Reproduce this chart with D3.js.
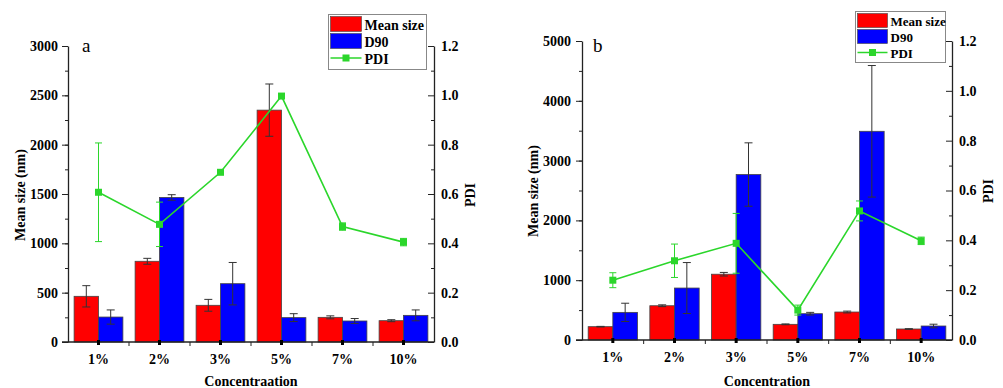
<!DOCTYPE html>
<html>
<head>
<meta charset="utf-8">
<script src="https://cdn.jsdelivr.net/npm/d3@7"></script>
<style>
  body { margin: 0; background: #fff; }
  svg text { font-family: "Liberation Serif", "Times New Roman", serif; }
</style>
</head>
<body>
<svg id="chart" width="1003" height="388"></svg>
<script>
// data
var categories = ['1%', '2%', '3%', '5%', '7%', '10%'];

var meanSizeA    = [463, 818, 372, 2350, 250, 216];
var meanSizeErrA = [108, 30, 60, 265, 15, 10];
var d90A         = [253, 1465, 591, 247, 213, 270];
var d90ErrA      = [72, 28, 215, 40, 25, 55];
var pdiA         = [0.607, 0.477, 0.688, 0.997, 0.468, 0.405];
var pdiErrA      = [0.2, 0.09, 0.004, 0.004, 0.015, 0.015];

var meanSizeB    = [223, 573, 1100, 262, 468, 184];
var meanSizeErrB = [5, 15, 30, 7, 15, 5];
var d90B         = [462, 869, 2767, 440, 3490, 234];
var d90ErrB      = [153, 426, 530, 22, 1100, 30];
var pdiB         = [0.24, 0.318, 0.388, 0.12, 0.518, 0.398];
var pdiErrB      = [0.03, 0.067, 0.12, 0.02, 0.04, 0.015];

var leftTicksA = [0, 500, 1000, 1500, 2000, 2500, 3000];
var leftTicksB = [0, 1000, 2000, 3000, 4000, 5000];
var pdiTicks   = [0, 0.2, 0.4, 0.6, 0.8, 1.0, 1.2];
var seriesNames = ['Mean size', 'D90', 'PDI'];

var RED = '#ff0000', BLUE = '#0000ff', GREEN = '#2bd62b', AXIS = '#222';
var SERIF = '"Liberation Serif", "Times New Roman", serif';

var svg = d3.select('#chart');

function styleLabels(a) {
  a.attr('font-family', SERIF);
  a.selectAll('text')
    .style('font-family', SERIF)
    .attr('font-size', 14).attr('font-weight', 'bold').attr('fill', '#000');
}

function drawPanel(p) {
  var g = svg.append('g');

  var x = d3.scaleBand().domain(categories).range([p.x0, p.x1]).padding(0);
  var sub = d3.scaleBand().domain([0, 1])
      .range([x.bandwidth() * 0.1, x.bandwidth() * 0.9]).padding(0);
  var y = d3.scaleLinear().domain([0, p.yMax]).range([p.yBottom, p.yTop]);
  var y2 = d3.scaleLinear().domain([0, 1.2]).range([p.yBottom, p.yTop]);

  var rows = categories.map(function(c, i) {
    return { c: c, mean: p.mean[i], meanErr: p.meanErr[i], d90: p.d90[i],
             d90Err: p.d90Err[i], pdi: p.pdi[i], pdiErr: p.pdiErr[i] };
  });

  // bars
  [['mean', 'meanErr', RED, 0], ['d90', 'd90Err', BLUE, 1]].forEach(function(s) {
    g.selectAll('rect.b' + s[3]).data(rows).enter().append('rect')
      .attr('x', function(d) { return x(d.c) + sub(s[3]); })
      .attr('y', function(d) { return y(d[s[0]]); })
      .attr('width', sub.bandwidth())
      .attr('height', function(d) { return y(0) - y(d[s[0]]); })
      .attr('fill', s[2])
      .attr('stroke', '#444')
      .attr('stroke-width', 0.8);
  });
  [['mean', 'meanErr', 0], ['d90', 'd90Err', 1]].forEach(function(s) {
    rows.forEach(function(d) {
      var cx = x(d.c) + sub(s[2]) + sub.bandwidth() / 2;
      var lo = y(d[s[0]] - d[s[1]]), hi = y(d[s[0]] + d[s[1]]);
      g.append('line').attr('x1', cx).attr('x2', cx).attr('y1', lo).attr('y2', hi)
        .attr('stroke', '#333').attr('stroke-width', 1);
      [lo, hi].forEach(function(v) {
        g.append('line').attr('x1', cx - 4).attr('x2', cx + 4).attr('y1', v).attr('y2', v)
          .attr('stroke', '#333').attr('stroke-width', 1);
      });
    });
  });

  // PDI line
  var cxOf = function(d) { return x(d.c) + x.bandwidth() / 2; };
  g.append('path').datum(rows)
    .attr('d', d3.line().x(cxOf).y(function(d) { return y2(d.pdi); }))
    .attr('fill', 'none').attr('stroke', GREEN).attr('stroke-width', 1.6);
  rows.forEach(function(d) {
    var cx = cxOf(d), lo = y2(d.pdi - d.pdiErr), hi = y2(d.pdi + d.pdiErr);
    g.append('line').attr('x1', cx).attr('x2', cx).attr('y1', lo).attr('y2', hi)
      .attr('stroke', GREEN).attr('stroke-width', 1);
    [lo, hi].forEach(function(v) {
      g.append('line').attr('x1', cx - 3.5).attr('x2', cx + 3.5).attr('y1', v).attr('y2', v)
        .attr('stroke', GREEN).attr('stroke-width', 1);
    });
  });
  g.selectAll('rect.m').data(rows).enter().append('rect')
    .attr('x', function(d) { return cxOf(d) - 3.5; })
    .attr('y', function(d) { return y2(d.pdi) - 3.5; })
    .attr('width', 7).attr('height', 7).attr('fill', GREEN);

  // left axis
  var minorL = d3.range(0, p.yMax + 1, p.minorStep);
  g.append('g').attr('transform', 'translate(' + p.x0 + ',0)')
    .call(d3.axisLeft(y).tickValues(minorL).tickSize(3).tickFormat(''))
    .call(function(a) { a.select('.domain').remove(); a.selectAll('line').attr('stroke', AXIS); });
  g.append('g').attr('transform', 'translate(' + p.x0 + ',0)')
    .call(d3.axisLeft(y).tickValues(p.leftTicks).tickSizeInner(6).tickSizeOuter(0)
      .tickPadding(p.leftPad).tickFormat(d3.format('d')))
    .call(function(a) {
      a.select('.domain').attr('stroke', AXIS).attr('stroke-width', 1.3);
      a.selectAll('line').attr('stroke', AXIS);
      styleLabels(a);
    });

  // right axis (ticks drawn on the inside)
  g.append('g').attr('transform', 'translate(' + p.x1 + ',0)')
    .call(d3.axisRight(y2).tickValues(d3.range(1, 12, 2).map(function(v) { return v / 10; }))
      .tickSize(-3).tickFormat(''))
    .call(function(a) { a.select('.domain').remove(); a.selectAll('line').attr('stroke', AXIS); });
  g.append('g').attr('transform', 'translate(' + p.x1 + ',0)')
    .call(d3.axisRight(y2).tickValues(pdiTicks).tickSizeInner(-6).tickSizeOuter(0)
      .tickPadding(7).tickFormat(d3.format('.1f')))
    .call(function(a) {
      a.select('.domain').attr('stroke', AXIS).attr('stroke-width', 1.3);
      a.selectAll('line').attr('stroke', AXIS);
      styleLabels(a);
    });

  // bottom axis
  g.append('line').attr('x1', p.x0 - 6).attr('x2', p.x1)
    .attr('y1', p.yBottom).attr('y2', p.yBottom)
    .attr('stroke', AXIS).attr('stroke-width', 1.3);
  x.domain().slice(1).forEach(function(c) {
    g.append('line').attr('x1', x(c)).attr('x2', x(c))
      .attr('y1', p.yBottom).attr('y2', p.yBottom + 4)
      .attr('stroke', AXIS).attr('stroke-width', 1);
  });
  g.append('g').attr('transform', 'translate(0,' + p.yBottom + ')')
    .call(d3.axisBottom(x).tickSize(3).tickPadding(9))
    .call(function(a) {
      a.select('.domain').remove();
      a.selectAll('line').attr('stroke', '#000').attr('stroke-width', 3)
        .attr('y1', -2);
      styleLabels(a);
    });

  // titles
  g.append('text').attr('x', (p.x0 + p.x1) / 2).attr('y', 386)
    .attr('text-anchor', 'middle').attr('font-size', 14).attr('font-weight', 'bold')
    .text(p.xTitle);
  g.append('text').attr('transform', 'translate(' + p.yTitleX + ',' + p.titleY + ') rotate(-90)')
    .attr('text-anchor', 'middle').attr('font-size', 14).attr('font-weight', 'bold')
    .text('Mean size (nm)');
  g.append('text').attr('transform', 'translate(' + p.pdiTitleX + ',' + p.titleY + ') rotate(-90)')
    .attr('text-anchor', 'middle').attr('font-size', 14).attr('font-weight', 'bold')
    .text('PDI');
  g.append('text').attr('x', p.tagX).attr('y', 52).attr('font-size', 19).text(p.tag);

  // legend
  var L = p.legend;
  g.append('rect').attr('x', L.x).attr('y', L.y).attr('width', L.w).attr('height', L.h)
    .attr('fill', '#fff').attr('stroke', '#888').attr('stroke-width', 1);
  [RED, BLUE].forEach(function(col, i) {
    g.append('rect').attr('x', L.x + 2).attr('y', L.y + 2 + i * L.row)
      .attr('width', L.sw).attr('height', L.row - 2)
      .attr('fill', col).attr('stroke', '#444').attr('stroke-width', 0.6);
  });
  var ly = L.y + 2 + 2 * L.row + (L.row - 2) / 2;
  g.append('line').attr('x1', L.x + 2).attr('x2', L.x + 2 + L.sw).attr('y1', ly).attr('y2', ly)
    .attr('stroke', GREEN).attr('stroke-width', 1.5);
  g.append('rect').attr('x', L.x + 2 + L.sw / 2 - 3.5).attr('y', ly - 3.5)
    .attr('width', 7).attr('height', 7).attr('fill', GREEN);
  seriesNames.forEach(function(n, i) {
    g.append('text').attr('x', L.x + L.sw + 5).attr('y', L.y + 2 + i * L.row + L.row - 4)
      .attr('font-size', L.fs).attr('font-weight', 'bold').text(n);
  });
}

drawPanel({
  x0: 68, x1: 434, yTop: 46, yBottom: 342, yMax: 3000, minorStep: 250,
  leftTicks: leftTicksA, leftPad: 4,
  mean: meanSizeA, meanErr: meanSizeErrA, d90: d90A, d90Err: d90ErrA,
  pdi: pdiA, pdiErr: pdiErrA,
  xTitle: 'Concentraation', yTitleX: 25, pdiTitleX: 475, titleY: 195,
  tag: 'a', tagX: 82,
  legend: { x: 328.5, y: 14.5, w: 98, h: 55, row: 17, sw: 31, fs: 14 }
});

drawPanel({
  x0: 582, x1: 952, yTop: 41, yBottom: 340, yMax: 5000, minorStep: 500,
  leftTicks: leftTicksB, leftPad: 5,
  mean: meanSizeB, meanErr: meanSizeErrB, d90: d90B, d90Err: d90ErrB,
  pdi: pdiB, pdiErr: pdiErrB,
  xTitle: 'Concentration', yTitleX: 538, pdiTitleX: 993, titleY: 191,
  tag: 'b', tagX: 593,
  legend: { x: 855.5, y: 11.5, w: 90, h: 51, row: 16, sw: 30, fs: 13 }
});
</script>
</body>
</html>
